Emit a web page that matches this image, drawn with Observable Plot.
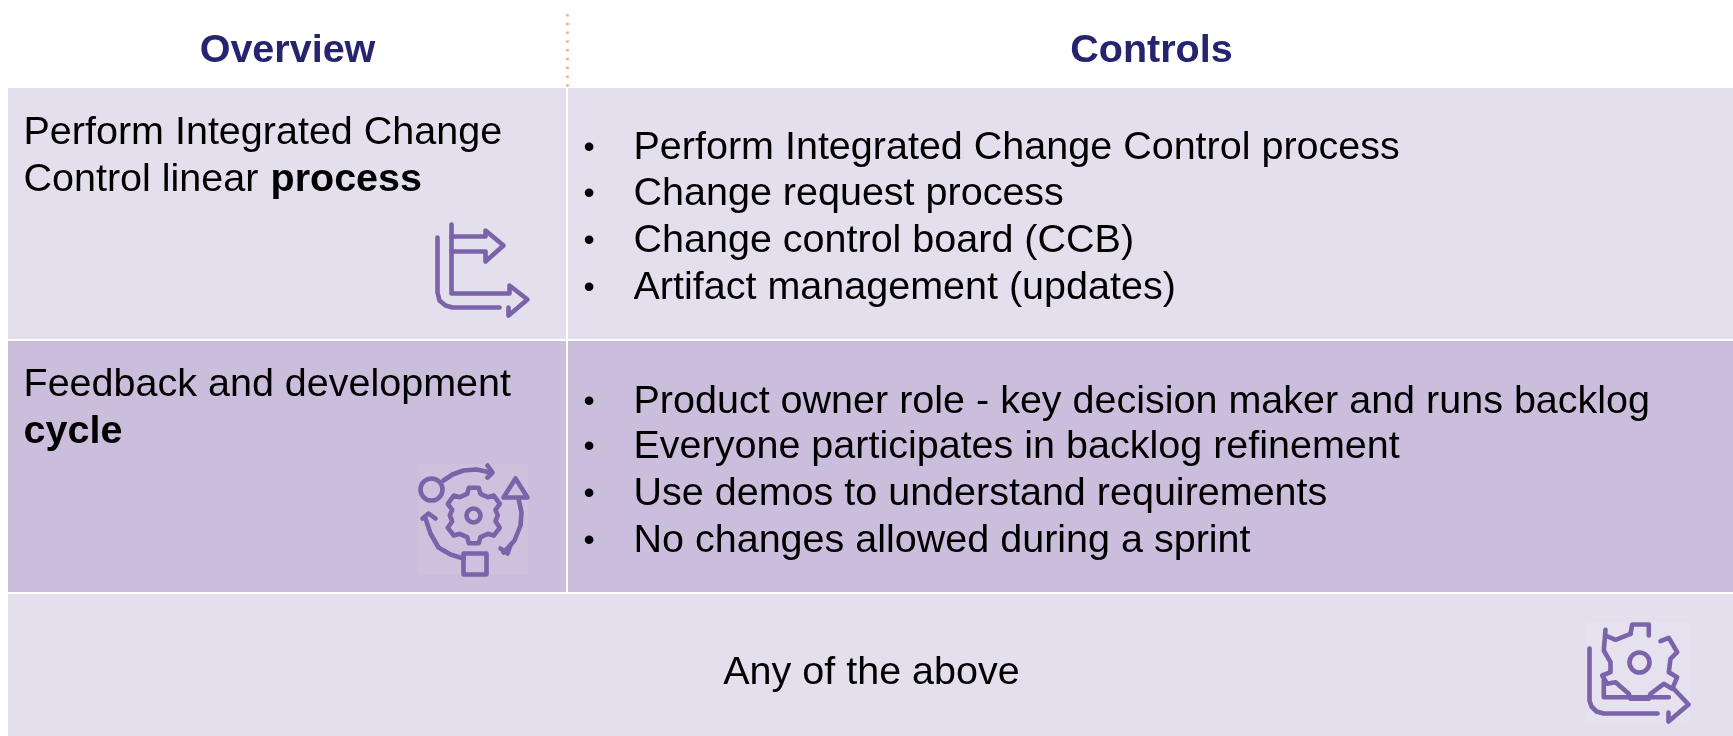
<!DOCTYPE html>
<html><head><meta charset="utf-8">
<script src="https://cdn.jsdelivr.net/npm/d3@7"></script>
<script src="https://cdn.jsdelivr.net/npm/@observablehq/plot@0.6"></script>
<style>html,body{margin:0;padding:0;background:#fff;overflow:hidden}svg{display:block}
svg g[aria-label="text"],svg g[aria-label="line"],svg g[aria-label="dot"]{filter:blur(0.55px)}</style>
</head><body><div id="chart"></div>
<script>
const W=1733,H=736;
const cells=[
 {x1:8,x2:566,y1:88,y2:339,fill:"#E4DFED"},
 {x1:568,x2:1733,y1:88,y2:339,fill:"#E4DFED"},
 {x1:8,x2:566,y1:341,y2:592,fill:"#CBBEDC"},
 {x1:568,x2:1733,y1:341,y2:592,fill:"#CBBEDC"},
 {x1:8,x2:1733,y1:594,y2:736,fill:"#E4DFED"}
];
const headers=[{t:"Overview",x:287,y:49},{t:"Controls",x:1151,y:49}];
const leftText=[
 {t:"Perform Integrated Change",x:23,y:131},
 {t:"Control linear ",x:23,y:178},
 {t:"Feedback and development",x:23,y:383},
 {t:"Any of the above",x:871,y:671,a:"middle"}
];
const boldText=[{t:"process",x:270,y:178},{t:"cycle",x:23,y:430}];
const bullets=[
 {t:"Perform Integrated Change Control process",y:146},
 {t:"Change request process",y:192},
 {t:"Change control board (CCB)",y:239},
 {t:"Artifact management (updates)",y:286},
 {t:"Product owner role - key decision maker and runs backlog",y:400},
 {t:"Everyone participates in backlog refinement",y:445},
 {t:"Use demos to understand requirements",y:492},
 {t:"No changes allowed during a sprint",y:539}
];
const iconPanels=[
 {x1:418,x2:528,y1:464,y2:575,fill:"#CDC1DE"},
 {x1:1586,x2:1690,y1:622,y2:723,fill:"#E6E1EE"}
];
const iconPaths=[
 [[437,237],[437,292],[439,300],[445,305],[452,307],[499,307]],
 [[451,224],[451,293],[509,293],[509,285],[527,299],[508,315],[508,307]],
 [[451,236],[485,236],[485,230],[503,245],[485,261],[485,251],[451,251]],
 [[443,480],[452,474],[463,470],[476,469],[490,472]],
 [[487,465],[492,472],[487,477]],
 [[515,478],[503,497],[527,497],[515,478]],
 [[518,498],[521,512],[520,525],[514,540],[503,552]],
 [[500,548],[507,553],[510,545]],
 [[425,518],[430,533],[438,547],[450,554],[463,558]],
 [[422,518],[428,513],[435,518]],
 [[463,553],[486,553],[486,574],[463,574],[463,553]],
 [[466.7,493.3],[468.3,487.3],[478.3,487.3],[480,493.3],[487.3,496.7],[493.3,495],[499.3,503.3],[495,509.3],[497.3,515],[495,520.7],[499.3,527.3],[493.3,535],[487.3,533.3],[480,536.7],[478.3,542.7],[468.3,542.7],[466.7,536.7],[459.3,533.3],[453.3,535],[447.3,527.3],[451.7,520.7],[449.3,515],[451.7,509.3],[447.3,503.3],[453.3,495],[459.3,496.7],[466.7,493.3]],
 [[1589,648],[1589,700],[1591,706],[1596,711],[1603,713],[1657,713]],
 [[1673,688],[1688,704],[1668,721],[1668,712]],
 [[1630,633.3],[1631.7,624],[1648.3,624],[1648.3,635]],
 [[1605,629.3],[1603.3,650],[1610,661.7],[1610,671.7],[1601.7,675],[1606.7,683.3],[1615,681.7],[1628.3,693.3],[1630,698.3],[1648.3,698.3],[1650,693.3],[1663.3,683.3],[1671.7,688.3],[1676.7,676.7],[1668.3,671.7],[1670,658.3],[1676.7,651.7],[1668.3,637.3],[1660,640.7]],
 [[1605,635],[1615,639.3],[1630,633.3]],
 [[1603.3,680],[1603.3,696.7],[1668.3,696.7]]
];
const iconRings=[{x:431,y:489,r:11},{x:473,y:515,r:7},{x:1639,y:662,r:10}];
const iconColor="#7A63A8";
const font="'Liberation Sans',Arial,sans-serif", fs=39.5;
const lineData=iconPaths.flatMap((p,i)=>p.map(([x,y])=>({x,y,i})));
const base={textAnchor:"start",fontSize:fs,fill:"#000"};
const chart=Plot.plot({
 width:W,height:H,margin:0,
 style:{fontFamily:font,background:"transparent"},
 x:{domain:[0,W],range:[0,W],axis:null},
 y:{domain:[0,H],range:[0,H],axis:null},
 r:{type:"identity"},
 marks:[
  Plot.rect(cells,{x1:"x1",x2:"x2",y1:"y1",y2:"y2",fill:"fill"}),
  Plot.rect(iconPanels,{x1:"x1",x2:"x2",y1:"y1",y2:"y2",fill:"fill"}),
  Plot.ruleX([567],{y1:[14],y2:[87],stroke:"#F4A97F",strokeWidth:2.5,strokeDasharray:"2.5 6.27"}),
  Plot.text(headers,{x:"x",y:"y",text:"t",fontSize:fs,fontWeight:"bold",fill:"#27246F",textAnchor:"middle"}),
  Plot.text(leftText.filter(d=>!d.a),{x:"x",y:"y",text:"t",...base}),
  Plot.text(leftText.filter(d=>d.a),{x:"x",y:"y",text:"t",...base,textAnchor:"middle"}),
  Plot.text(boldText,{x:"x",y:"y",text:"t",...base,fontWeight:"bold"}),
  Plot.text(bullets,{x:()=>633,y:"y",text:"t",...base}),
  Plot.text(bullets,{x:()=>583,y:"y",text:()=>"•",...base,fontSize:32}),
  Plot.line(lineData,{x:"x",y:"y",z:"i",stroke:iconColor,strokeWidth:4.6,strokeLinecap:"round",strokeLinejoin:"round",curve:"linear"}),
  Plot.dot(iconRings,{x:"x",y:"y",r:"r",stroke:iconColor,strokeWidth:4.6,fill:"none"})
 ]
});
document.getElementById("chart").appendChild(chart);
</script></body></html>
